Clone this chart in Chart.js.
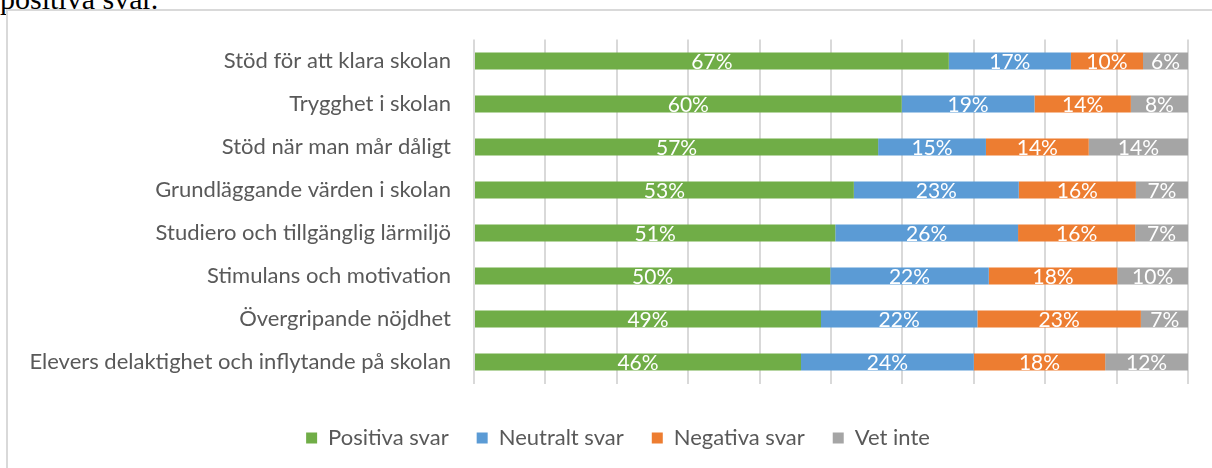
<!DOCTYPE html>
<html>
<head>
<meta charset="utf-8">
<script src="https://cdn.jsdelivr.net/npm/chart.js@4"></script>
<style>
  body { margin: 0; width: 1212px; height: 468px; overflow: hidden; background: #fff; position: relative; }
  .title { position: absolute; left: 0; top: -16px; font: 30px "Liberation Serif", serif; line-height: 30px; color: #000; white-space: nowrap; }
  .frame { position: absolute; left: 6px; top: 9px; width: 1300px; height: 600px; border: 2px solid #d9d9d9; }
  #chart { position: absolute; left: 0; top: 0; }
</style>
</head>
<body>
<div class="title">positiva svar.</div>
<div class="frame"></div>
<canvas id="chart" width="1212" height="468"></canvas>
<script>
// Categories (top to bottom)
const categories = [
    'Stöd för att klara skolan',
    'Trygghet i skolan',
    'Stöd när man mår dåligt',
    'Grundläggande värden i skolan',
    'Studiero och tillgänglig lärmiljö',
    'Stimulans och motivation',
    'Övergripande nöjdhet',
    'Elevers delaktighet och inflytande på skolan'
];

// Series values in percent
const positiva = [66.5, 59.9, 56.6, 53.2, 50.6, 49.9, 48.6, 45.8];
const neutralt = [17.1, 18.6, 15.1, 23.1, 25.6, 22.2, 21.9, 24.2];
const negativa = [10.1, 13.5, 14.4, 16.4, 16.4, 18.0, 22.9, 18.4];
const vetInte  = [6.3, 8.0, 13.9, 7.3, 7.4, 9.9, 6.7, 11.6];

const seriesNames = ['Positiva svar', 'Neutralt svar', 'Negativa svar', 'Vet inte'];
const seriesColors = ['#70AD47', '#5B9BD5', '#ED7D31', '#A5A5A5'];

const FONT = 'Lato, "Open Sans", sans-serif';
const TEXT_GREY = '#595959';

// Draw white percentage labels centered in each segment
const segmentLabels = {
    id: 'segmentLabels',
    afterDatasetsDraw(chart) {
        const ctx = chart.ctx;
        ctx.save();
        ctx.font = '21px ' + FONT;
        ctx.fillStyle = '#fff';
        ctx.textAlign = 'center';
        ctx.textBaseline = 'middle';
        chart.data.datasets.forEach((ds, i) => {
            const meta = chart.getDatasetMeta(i);
            meta.data.forEach((bar, j) => {
                const cx = (bar.x + bar.base) / 2;
                ctx.fillText(Math.round(ds.data[j]) + '%', cx, bar.y + 1);
            });
        });
        ctx.restore();
    }
};

// Fixed legend height, and legend nudged right like in the original
const legendPlace = {
    id: 'legendPlace',
    beforeInit(chart) {
        const lg = chart.legend;
        const fit = lg.fit;
        lg.fit = function () {
            fit.call(this);
            this.height = 68;
        };
    },
    afterLayout(chart) {
        chart.legend.left += 48;
    }
};

new Chart(document.getElementById('chart'), {
    type: 'bar',
    data: {
        labels: categories,
        datasets: [positiva, neutralt, negativa, vetInte].map((d, i) => ({
            label: seriesNames[i],
            data: d,
            backgroundColor: seriesColors[i],
            barPercentage: 0.4,
            categoryPercentage: 1
        }))
    },
    options: {
        indexAxis: 'y',
        responsive: false,
        animation: false,
        layout: { padding: { top: 39.5, bottom: 1, left: 0, right: 24 } },
        scales: {
            x: {
                stacked: true,
                min: 0,
                max: 100,
                ticks: { display: false, stepSize: 10 },
                grid: { color: '#d9d9d9', lineWidth: 2, drawTicks: false },
                border: { display: false },
                afterFit(scale) { scale.height = 15.5; }
            },
            y: {
                stacked: true,
                ticks: { color: TEXT_GREY, font: { family: FONT, size: 22 }, padding: 23 },
                grid: { display: false, drawTicks: false },
                border: { display: false },
                afterFit(scale) { scale.width = 474; }
            }
        },
        plugins: {
            legend: {
                position: 'bottom',
                labels: {
                    boxWidth: 11,
                    boxHeight: 11,
                    padding: 28,
                    color: TEXT_GREY,
                    font: { family: FONT, size: 22 }
                }
            },
            tooltip: { enabled: false }
        }
    },
    plugins: [segmentLabels, legendPlace]
});
</script>
</body>
</html>
